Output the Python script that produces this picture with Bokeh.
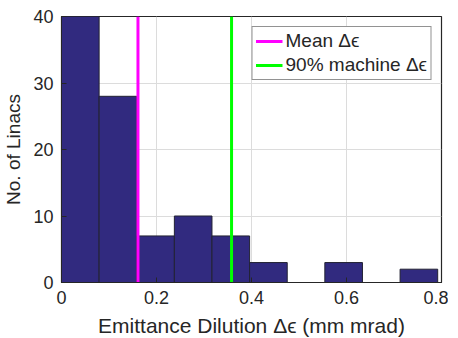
from bokeh.plotting import figure
from bokeh.models import Legend, LegendItem, FixedTicker, Range1d
from bokeh.embed import file_html
from bokeh.resources import INLINE

# Histogram data
bin_width = 0.0792
bin_starts = [0.0, 0.0792, 0.1584, 0.2376, 0.3168, 0.396, 0.4752, 0.5544, 0.6336, 0.7128]
counts = [40, 28, 7, 10, 7, 3, 0, 3, 0, 2]
mean_de = 0.161
p90_de = 0.358
x_ticks = [0, 0.2, 0.4, 0.6, 0.8]
y_ticks = [0, 10, 20, 30, 40]
y_max = 40

FONT = "Liberation Sans"
TXT = "#262626"

p = figure(width=442, height=322, output_backend="svg", toolbar_location=None,
           x_range=Range1d(0, 0.8), y_range=Range1d(0, y_max),
           min_border_left=55, min_border_right=7, min_border_top=16, min_border_bottom=40,
           frame_width=380, frame_height=266)
p.outline_line_color = "#262626"
p.outline_line_width = 1.2
p.background_fill_color = "white"
p.border_fill_color = "white"

lefts = bin_starts
rights = [b + bin_width for b in bin_starts]
p.quad(left=lefts, right=rights, bottom=[0] * len(counts), top=counts,
       fill_color="#312a7f", line_color="#222233", line_width=1)

r_mean = p.line(x=[mean_de, mean_de], y=[0, y_max], line_color="#ff00ff", line_width=3)
r_p90 = p.line(x=[p90_de, p90_de], y=[0, y_max], line_color="#00ff00", line_width=3)

for ax in (p.xaxis[0], p.yaxis[0]):
    ax.major_tick_in = 5
    ax.major_tick_out = 0
    ax.minor_tick_line_color = None
    ax.axis_line_color = "#262626"
    ax.major_tick_line_color = "#262626"
    ax.major_label_text_font = FONT
    ax.major_label_text_font_size = "18px"
    ax.major_label_text_color = TXT
    ax.axis_label_text_font = FONT
    ax.axis_label_text_font_style = "normal"
    ax.axis_label_text_color = TXT

p.xaxis[0].axis_label_text_font_size = "21px"
p.yaxis[0].axis_label_text_font_size = "19px"
p.xaxis[0].ticker = FixedTicker(ticks=x_ticks)
p.yaxis[0].ticker = FixedTicker(ticks=y_ticks)
p.xaxis[0].major_label_overrides = {0: "0", 0.2: "0.2", 0.4: "0.4", 0.6: "0.6", 0.8: "0.8"}
p.xaxis[0].axis_label = "Emittance Dilution \u0394\u03f5 (mm mrad)"
p.yaxis[0].axis_label = "No. of Linacs"
p.xaxis[0].major_label_standoff = 8
p.xaxis[0].axis_label_standoff = 7
p.yaxis[0].major_label_standoff = 8
p.yaxis[0].axis_label_standoff = 6

p.xgrid.ticker = FixedTicker(ticks=x_ticks)
p.ygrid.ticker = FixedTicker(ticks=y_ticks)
p.grid.grid_line_color = "#dcdcdc"
p.grid.grid_line_width = 1

legend = Legend(items=[LegendItem(label="Mean \u0394\u03f5", renderers=[r_mean]),
                       LegendItem(label="90% machine \u0394\u03f5", renderers=[r_p90])],
                location="top_right")
legend.label_text_font = FONT
legend.label_text_font_size = "19px"
legend.label_text_color = TXT
legend.glyph_width = 27
legend.glyph_height = 22
legend.label_height = 22
legend.label_standoff = 3
legend.spacing = 2
legend.padding = 3
legend.margin = 10
legend.border_line_color = "#262626"
legend.border_line_width = 1.5
legend.background_fill_color = "white"
legend.background_fill_alpha = 1
p.add_layout(legend)

open("out.html", "w").write(file_html(p, INLINE))
